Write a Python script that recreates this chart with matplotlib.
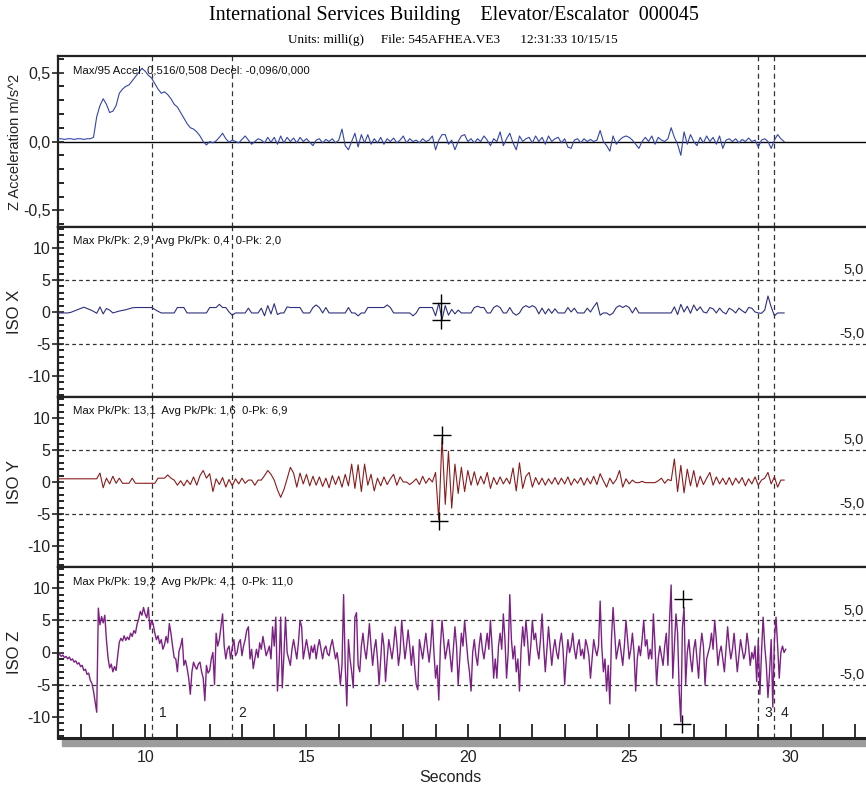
import numpy as np
import matplotlib.pyplot as plt
from matplotlib.patches import Rectangle
from matplotlib.ticker import MultipleLocator, FuncFormatter

plt.rcParams['font.family'] = ['Liberation Sans Narrow', 'Liberation Sans', 'DejaVu Sans']

# 0.1 s traces (Z acceleration, ISO X, ISO Y), first sample at 7.3 s
t0_a = 7.3
dt_a = 0.1
z_accel = [
    0.02, 0.02, 0.015, 0.02, 0.02, 0.015, 0.02, 0.02, 0.015, 0.02,
    0.02, 0.03, 0.18, 0.26, 0.31, 0.27, 0.21, 0.22, 0.26, 0.35,
    0.38, 0.40, 0.41, 0.44, 0.47, 0.50, 0.53, 0.51, 0.48, 0.46,
    0.42, 0.38, 0.35, 0.36, 0.34, 0.31, 0.27, 0.25, 0.21, 0.17,
    0.13, 0.10, 0.09, 0.07, 0.04, 0.00, -0.025, 0.0, -0.01, 0.005,
    0.03, 0.06, 0.02, -0.005, 0.01, 0.0, -0.01, 0.015, 0.04, 0.01,
    -0.02, 0.0, 0.02, 0.01, -0.01, 0.03, -0.005, 0.03, -0.02, 0.04,
    -0.01, 0.03, 0.0, 0.025, -0.01, 0.03, 0.0, 0.02, -0.005, -0.03,
    0.01, 0.02, -0.01, 0.015, 0.0, 0.02, -0.01, 0.01, 0.09, -0.03,
    -0.06, 0.0, 0.06, -0.04, 0.05, -0.01, 0.05, -0.02, 0.02, -0.01,
    0.03, -0.02, 0.02, 0.0, 0.025, -0.01, 0.01, 0.04, -0.01, 0.02,
    0.0, 0.01, -0.01, 0.02, 0.0, 0.01, 0.04, -0.06, 0.01, 0.05,
    0.05, -0.02, 0.01, -0.06, 0.0, 0.04, 0.05, 0.0, 0.02, -0.01,
    0.02, 0.0, 0.04, 0.01, -0.03, 0.02, 0.0, 0.07, -0.03, 0.02,
    0.06, -0.01, -0.06, 0.04, 0.0, 0.02, 0.03, -0.01, 0.04, 0.0,
    0.03, -0.02, 0.04, 0.0, 0.02, 0.03, -0.01, 0.02, -0.04, -0.05,
    0.01, 0.02, -0.01, 0.02, 0.0, 0.015, 0.0, 0.01, 0.08, 0.0,
    -0.03, -0.07, 0.04, -0.02, 0.01, 0.03, 0.04, 0.03, 0.01, -0.02,
    -0.05, 0.0, 0.03, 0.0, 0.04, -0.02, 0.03, 0.01, 0.0, 0.02,
    0.10, 0.03, -0.02, -0.10, 0.07, -0.02, 0.05, 0.0, -0.03, 0.03,
    -0.01, 0.04, 0.0, 0.03, -0.02, 0.04, -0.05, 0.01, 0.02, 0.0,
    0.02, -0.01, 0.015, 0.0, 0.025, 0.0, 0.01, -0.04, 0.01, 0.02,
    0.0, -0.05, 0.01, 0.05, 0.02, 0.0,
]
iso_x = [
    -0.15, -0.15, -0.15, -0.15, -0.05, 0.15, 0.35, 0.55, 0.75, 0.55,
    0.35, 0.1, -0.2, 0.8, -0.3, 0.55, 0.3, -0.15, 0.0, 0.15,
    0.25, 0.35, 0.5, 0.65, 0.7, 0.7, 0.7, 0.7, 0.7, 0.7,
    0.4, 0.1, -0.15, -0.15, -0.15, -0.15, -0.15, 0.7, 0.7, 0.7,
    -0.15, -0.15, -0.15, -0.15, -0.15, -0.15, -0.15, 0.7, 0.7, 0.7,
    1.2, 0.7, 0.7, 0.0, -0.5, -0.15, -0.15, -0.15, -0.15, 0.6,
    -0.15, -0.15, -0.15, 0.6, -0.6, 1.0, -0.3, 1.3, -0.4, -0.15,
    -0.15, 0.8, 0.7, 0.7, 0.7, 0.7, -0.15, -0.15, -0.15, 0.7,
    1.1, 0.7, -0.15, 0.7, -0.15, -0.15, -0.15, -0.15, -0.15, -0.15,
    0.7, -0.15, -0.15, -0.6, -0.15, -0.15, 0.7, 0.7, 0.7, 0.7,
    0.7, 0.7, 1.1, 0.7, -0.15, -0.15, -0.15, -0.15, -0.15, -0.15,
    -0.6, -0.15, 0.7, 0.7, 0.7, 0.7, 0.7, -0.6, 1.4, -1.2,
    1.0, -0.5, 0.4, -0.3, 0.3, -0.15, -0.15, -0.15, -0.15, 0.7,
    0.9, 0.7, 0.7, -0.15, -0.15, 0.7, 1.0, 0.7, -0.15, -0.15,
    0.7, -0.15, -0.5, -0.15, 0.7, 1.0, 0.7, 1.0, 0.7, -0.3,
    0.6, -0.3, 0.5, -0.2, 0.5, -0.15, -0.15, -0.15, 0.7, 0.0,
    0.6, -0.15, -0.15, -0.15, 0.6, 0.0, 0.8, 1.5, -0.5, -0.15,
    -0.15, -0.5, -0.15, 0.7, 1.0, 0.7, 1.0, 0.7, -0.15, 0.7,
    -0.15, -0.15, -0.15, -0.15, -0.15, -0.15, -0.15, -0.15, -0.15, -0.15,
    -0.15, 0.8, -0.4, 1.2, 0.0, 0.9, -0.2, 1.1, 0.2, 0.8,
    0.0, -0.15, 0.7, 0.5, -0.15, 0.6, 0.0, -0.3, 0.6, 0.3,
    -0.15, 0.6, 0.2, -0.15, 0.7, 0.6, 0.0, -0.15, -0.2, 0.3,
    2.5, 0.8, -0.6, -0.15, -0.15, -0.15,
]
iso_y = [
    0.5, 0.5, 0.5, 0.5, 0.5, 0.5, 0.5, 0.5, 0.5, 0.5,
    0.5, 0.5, 0.5, 1.4, -0.9, 0.6, -0.3, 0.9, -0.2, 0.6,
    -0.2, -0.2, -0.2, 0.6, -0.2, -0.2, -0.2, -0.2, -0.2, -0.2,
    -0.2, 0.6, 0.6, 0.6, 1.1, 0.6, 0.3, -0.5, 0.2, -0.6,
    0.3, -0.4, 0.8, -0.5, 1.0, 1.8, 0.6, 1.3, -1.5, 0.5,
    -0.4, 0.7, -0.8, 0.4, -0.6, 0.5, -0.3, 0.6, -0.2, 0.3,
    0.3, -0.5, 0.3, 0.3, 1.0, 1.8, 1.2, 0.3, -1.2, -2.4,
    -1.2, 0.5, 2.3, 1.4, -0.8, 1.4, -0.3, 1.2, -0.6, 0.9,
    -0.5, 0.8, -0.7, 0.6, -0.9, 1.0, -0.4, 0.9, -0.8, 1.2,
    -0.6, 2.8, -1.0, 2.7, -1.5, 2.8, -0.5, 1.2, -1.4, 0.6,
    -0.6, 0.8, -0.4, 0.5, 1.2, -0.5, 0.8, 0.0, 0.0, -0.4,
    0.0, 0.5, -0.4, 0.9, -0.2, 0.6, 0.0, 1.5, -5.9, 6.9,
    -3.5, 4.8, -4.1, 2.8, -1.8, 2.3, -1.5, 1.8, -0.5, 1.6,
    -0.5, 0.9, -0.3, 1.5, -1.0, 0.7, -0.4, 0.8, -0.3, 0.6,
    -0.3, 2.2, -1.4, 3.0, -1.0, 0.9, 1.5, -0.8, 0.7, -0.4,
    0.6, -0.5, 0.5, -0.3, 0.7, -0.4, 0.6, -0.3, 0.8, -0.5,
    0.5, -0.2, 0.7, -0.5, 0.6, -0.3, 0.9, -0.4, 1.3, 0.2,
    -0.8, 0.6, -0.3, 0.4, 1.8, -0.8, 0.5, -0.3, 0.3, -0.1,
    -0.1, 0.1, -0.1, -0.1, -0.1, -0.1, 0.2, 0.6, -0.2, 0.4,
    0.2, 3.6, -1.5, 2.6, -1.7, 2.0, -0.6, 1.8, -0.8, 0.9,
    -0.4, 0.6, 1.5, -0.5, 0.8, -0.3, 0.6, -0.4, 0.7, -0.5,
    0.6, -0.2, 0.7, -0.6, 0.5, -0.3, 0.8, -0.5, 0.3, 0.6,
    1.5, -0.3, 0.8, -0.8, 0.3, 0.3,
]

# 0.05 s trace (ISO Z), first sample at 7.35 s
t0_z = 7.35
dt_z = 0.05
iso_z = [
    -0.3, -0.6, -0.4, -0.8, -0.6, -1.0, -0.7, -1.2, -1.0, -1.5, -1.3, -1.8, -1.6, -2.2, -2.0, -2.8, -2.6, -3.4, -3.2, -4.3,
    -4.8, -6.0, -7.6, -9.3, 6.9, 4.3, 5.6, 4.6, 5.8, 2.0, -0.8, -2.4, -1.8, -3.0, -2.2, -2.8, -0.5, 1.6, 2.2, 1.8,
    2.6, 1.9, 2.4, 2.0, 3.0, 2.5, 3.4, 3.0, 4.4, 5.2, 6.4, 5.8, 7.0, 6.0, 5.4, 7.0, 3.6, 5.0, 4.4, 3.0,
    2.0, 2.6, 1.4, 2.0, 0.5, 1.2, 2.5, 1.5, 4.5, 3.0, 1.0, -0.8, -1.0, -3.0, 0.2, 1.0, 2.2, -2.0, -1.2, -2.4,
    -4.0, -6.5, -3.0, -1.5, -2.2, -2.6, -1.8, -1.5, -3.0, -4.0, -7.5, -2.0, -3.2, -2.8, -1.0, 0.0, -5.0, 3.0, 1.0, 2.0,
    4.0, 6.0, 1.0, -1.0, 0.5, 1.0, -1.0, 0.8, 2.0, -0.5, 0.0, 1.5, 2.0, -0.5, 1.0, 2.0, 3.5, 4.0, -1.0, 0.5,
    -2.5, -1.0, 0.5, -0.8, 1.5, 0.5, 2.5, 1.0, -0.5, 0.2, 1.0, -1.0, 4.0, 1.0, 5.5, -6.0, -2.0, 5.5, -5.5, -0.5,
    5.5, 0.0, -1.0, -2.0, 0.5, 2.0, 0.5, -1.0, 1.5, 5.0, 4.0, -1.0, 0.5, 2.0, 0.5, -1.0, 1.0, 0.0, 1.2, -1.0,
    0.8, 2.0, 0.5, -1.0, 0.5, 1.0, -0.2, -0.5, 1.0, 2.0, 0.5, -1.0, 0.0, -2.0, -5.0, -2.0, 9.0, -2.0, -8.3, 2.0,
    -1.0, -3.0, -5.5, 5.5, 6.2, -2.0, -3.0, 1.0, 3.0, 0.5, -1.0, 1.5, 4.5, 1.0, -2.0, 0.5, 2.0, -1.0, -5.0, -1.0,
    3.0, 1.0, -4.5, -1.0, 2.0, 0.5, -1.0, 1.0, 4.0, 1.5, -2.0, 0.0, 5.0, 2.0, -1.0, 1.0, 3.5, 1.0, -2.0, 1.0,
    -2.0, -5.0, -5.8, 2.0, 0.5, -1.0, 1.0, 3.0, 0.5, -1.5, 1.0, 5.0, 0.0, -4.0, -2.0, -7.4, 1.0, 5.0, 2.0, -1.0,
    0.5, 2.0, -0.5, -3.0, 0.5, 4.0, 1.0, -5.0, -1.0, 3.0, 1.0, 5.0, 2.0, -1.0, -3.0, -6.0, 0.0, 2.0, -0.5, -2.0,
    1.0, 3.0, 0.5, -1.0, 1.0, 3.0, 0.5, 5.0, 1.0, -4.0, -1.0, -4.0, 1.0, 3.0, 0.5, 6.0, 2.0, -4.0, 0.0, 9.0,
    2.0, -1.0, 1.0, -3.0, -1.0, -6.0, 0.5, 4.0, 1.0, 5.0, 2.0, -2.0, 1.0, 5.0, 2.0, 3.0, 0.5, -1.0, 2.0, 6.0,
    1.0, -3.0, 0.5, 4.0, 1.0, -2.0, 0.5, 2.0, 0.0, -1.0, 1.5, 3.0, 0.5, -5.0, -1.0, 2.0, 0.0, 1.0, 3.0, 0.5,
    -1.0, 1.0, 2.0, -0.5, 0.5, -1.0, 2.0, 1.0, -0.5, -4.0, -1.0, 2.0, 0.5, -0.5, 1.0, 8.0, 1.0, -3.0, -1.0, -6.0,
    -2.0, -8.0, 2.0, 7.0, 3.0, -1.0, 0.5, 2.0, 0.0, -2.0, 1.0, 5.0, 2.0, -1.0, 0.5, 3.0, 0.0, -6.0, -1.0, 1.0,
    -0.5, 2.0, 5.0, 1.0, 2.0, -1.0, 0.5, -1.0, 6.0, 1.0, -5.0, -1.0, 1.0, -0.5, -2.0, 1.0, 3.0, -2.0, 5.0, 10.5,
    -4.0, 1.0, 6.0, 3.0, -6.0, -10.8, 4.0, 7.0, -5.0, 0.0, 2.0, -1.0, -3.0, 0.5, 2.0, -1.0, -4.0, 0.5, 3.0, 1.0,
    -5.0, -1.0, 0.0, 1.0, 3.0, 0.5, 5.0, 2.0, -2.0, 0.0, 1.0, -1.0, -3.0, 0.5, 4.0, 1.0, -1.0, 0.5, 3.0, 0.0,
    -3.0, -0.5, 2.0, 0.5, -1.0, 0.0, 3.0, 1.0, -2.0, 0.0, -1.0, 1.0, -4.5, 2.0, -6.5, 0.0, 5.5, 1.0, -2.0, -7.0,
    -3.0, 2.0, -8.5, 2.0, 5.5, 1.0, -4.0, 0.0, 1.0, 0.0, 0.5,
]

# peak cursors ("+" marks) per ISO panel
iso_x_marks = ([19.18, 19.18], [1.4, -1.3])
iso_y_marks = ([19.2, 19.1], [7.3, -6.1])
iso_z_marks = ([26.68, 26.63], [8.3, -11.1])

cursor_t = [10.22, 12.70, 28.98, 29.48]
cursor_labels = ['1', '2', '3', '4']

panel_stats = [
    'Max/95 Accel: 0,516/0,508 Decel: -0,096/0,000',
    'Max Pk/Pk: 2,9  Avg Pk/Pk: 0,4  0-Pk: 2,0',
    'Max Pk/Pk: 13,1  Avg Pk/Pk: 1,6  0-Pk: 6,9',
    'Max Pk/Pk: 19,2  Avg Pk/Pk: 4,1  0-Pk: 11,0',
]
panel_ylabels = ['Z Acceleration m/s^2', 'ISO X', 'ISO Y', 'ISO Z']
ylabel_sizes = [10.5, 12, 12, 12]
colors = ['#3346a8', '#2e307e', '#8a1c1c', '#7c2184']
line_widths = [0.8, 0.8, 0.8, 1.0]

t_a = t0_a + dt_a * np.arange(len(z_accel))
t_z = t0_z + dt_z * np.arange(len(iso_z))

fig = plt.figure(figsize=(8.66, 7.94), dpi=100)
W, H = 866, 794
left, right = 58, 868
tops = [56, 227, 397, 567]
bots = [227, 397, 567, 738]
axes = []
for top, bot in zip(tops, bots):
    ax = fig.add_axes([left / W, 1 - bot / H, (right - left) / W, (bot - top) / H])
    axes.append(ax)

comma = FuncFormatter(lambda v, p: f'{v:.1f}'.replace('.', ','))
intfmt = FuncFormatter(lambda v, p: f'{v:.0f}')

series = [(t_a, z_accel), (t_a, iso_x), (t_a, iso_y), (t_z, iso_z)]
marks = [None, iso_x_marks, iso_y_marks, iso_z_marks]

for i, ax in enumerate(axes):
    t, y = series[i]
    ax.set_xlim(7.3, 32.4)
    if i == 0:
        ax.set_ylim(-0.62, 0.62)
        ax.yaxis.set_major_locator(MultipleLocator(0.5))
        ax.yaxis.set_minor_locator(MultipleLocator(0.1))
        ax.yaxis.set_major_formatter(comma)
        ax.axhline(0, color='black', lw=1.0, zorder=1)
    else:
        ax.set_ylim(-13.3, 13.3)
        ax.yaxis.set_major_locator(MultipleLocator(5))
        ax.yaxis.set_minor_locator(MultipleLocator(1))
        ax.yaxis.set_major_formatter(intfmt)
        for lvl, lab in [(5, '5,0'), (-5, '-5,0')]:
            ax.axhline(lvl, color='#333333', lw=0.9, ls=(0, (3, 2.5)), zorder=1)
            ax.text(32.28, lvl + 0.4, lab, ha='right', va='bottom', fontsize=10.5, color='#222222')
    ax.plot(t, y, color=colors[i], lw=line_widths[i], zorder=3)
    if marks[i] is not None:
        ax.plot(marks[i][0], marks[i][1], ls='none', marker='+', ms=13, mew=1.0, color='black', zorder=4)
    for c in cursor_t:
        ax.axvline(c, color='#333333', lw=0.9, ls=(0, (4, 3)), zorder=2)

    ax.tick_params(axis='y', which='major', direction='inout', length=9, width=1.2, labelsize=11.5,
                   colors='#222222', pad=1)
    ax.tick_params(axis='y', which='minor', direction='in', length=4.5, width=1.2)
    ax.spines['right'].set_visible(False)
    for s in ['left', 'top', 'bottom']:
        ax.spines[s].set_linewidth(1.6)
        ax.spines[s].set_color('#222222')
    ax.text(0.019, 0.915, panel_stats[i], transform=ax.transAxes, fontsize=8.2, va='center', color='#111111')
    ax.set_ylabel(panel_ylabels[i], fontsize=ylabel_sizes[i], color='#222222')
    ax.yaxis.set_label_coords(-0.045, 0.5)
    if i < 3:
        ax.tick_params(axis='x', which='both', bottom=False, labelbottom=False)

ax4 = axes[3]
ax4.xaxis.set_major_locator(MultipleLocator(5))
ax4.xaxis.set_minor_locator(MultipleLocator(1))
ax4.tick_params(axis='x', which='both', direction='in', length=10, width=1.3, labelsize=11.5,
                colors='#222222', pad=9)
ax4.spines['bottom'].set_linewidth(2.2)
ax4.set_xlabel('Seconds', fontsize=11.5, color='#222222')
ax4.xaxis.set_label_coords(0.485, -0.185)
for c, lab in zip(cursor_t, cursor_labels):
    ax4.text(c + 0.2, -9.4, lab, fontsize=10, va='center', ha='left', color='#222222')

# shadow under the bottom axis
fig.add_artist(Rectangle((62 / W, 1 - 746 / H), (W - 62) / W, 6 / H, transform=fig.transFigure,
                         color='#9c9c9c', zorder=0))

fig.text(0.524, 0.981, 'International Services Building    Elevator/Escalator  000045',
         ha='center', va='center', fontsize=14.5, family='Liberation Serif')
fig.text(0.523, 0.950, 'Units: milli(g)     File: 545AFHEA.VE3      12:31:33 10/15/15',
         ha='center', va='center', fontsize=9.5, family='Liberation Serif')

fig.savefig('out.png', dpi=100)
